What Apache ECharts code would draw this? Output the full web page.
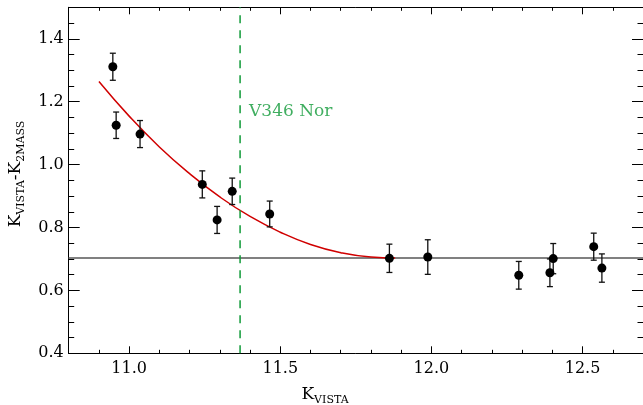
<!DOCTYPE html>
<html><head><meta charset="utf-8">
<script src="https://cdn.jsdelivr.net/npm/echarts@6/dist/echarts.min.js"></script>
<style>html,body{margin:0;padding:0;background:#fff}#c{width:643px;height:405px}</style>
</head><body><div id="c"></div>
<script>
// ---- data ----
const xTicks = [11.0, 11.5, 12.0, 12.5];
const yTicks = [0.4, 0.6, 0.8, 1.0, 1.2, 1.4];
const kVista = [10.946, 10.957, 11.036, 11.242, 11.291, 11.341, 11.465, 11.861, 11.988, 12.289, 12.392, 12.403, 12.537, 12.564];
const dK     = [1.311, 1.125, 1.097, 0.937, 0.824, 0.915, 0.843, 0.702, 0.706, 0.648, 0.656, 0.701, 0.739, 0.671];
const dKerr  = [0.043, 0.042, 0.043, 0.043, 0.043, 0.042, 0.041, 0.045, 0.055, 0.044, 0.044, 0.048, 0.043, 0.045];
const fitX   = [10.90, 11.0, 11.1, 11.2, 11.3, 11.4, 11.5, 11.6, 11.7, 11.8, 11.88];
const fitY   = [1.264, 1.154, 1.056, 0.971, 0.897, 0.835, 0.785, 0.746, 0.720, 0.706, 0.703];
const plateau = 0.703;
const v346X = 11.367;
const v346Label = 'V346 Nor';
const xRange = [10.8, 12.7];
const yRange = [0.4, 1.5];

const FONT = 'DejaVu Serif';
const GREEN = '#109a38';
const chart = echarts.init(document.getElementById('c'), null, {renderer: 'canvas'});

function xAx(pos, major, showLine, showLabel) {
  return {
    type: 'value', position: pos, min: xRange[0], max: xRange[1],
    interval: major ? undefined : 0.1,
    splitLine: {show: false},
    axisLine: {show: showLine, onZero: false, lineStyle: {color: '#000', width: 1}},
    axisTick: major
      ? {show: true, inside: true, length: 7, customValues: xTicks, lineStyle: {color: '#000', width: 1}}
      : {show: true, inside: true, length: 3.5, lineStyle: {color: '#000', width: 1}},
    axisLabel: showLabel
      ? {show: true, customValues: xTicks, formatter: v => Number(v).toFixed(1), margin: 8,
         fontFamily: FONT, fontSize: 16, color: '#000'}
      : {show: false}
  };
}
function yAx(pos, major, showLine, showLabel) {
  return {
    type: 'value', position: pos, min: yRange[0], max: yRange[1],
    interval: major ? undefined : 0.05,
    splitLine: {show: false},
    axisLine: {show: showLine, onZero: false, lineStyle: {color: '#000', width: 1}},
    axisTick: major
      ? {show: true, inside: true, length: 11, customValues: yTicks, lineStyle: {color: '#000', width: 1}}
      : {show: true, inside: true, length: 5.5, lineStyle: {color: '#000', width: 1}},
    axisLabel: showLabel
      ? {show: true, customValues: yTicks, formatter: v => Number(v).toFixed(1), margin: 5,
         fontFamily: FONT, fontSize: 16, color: '#000'}
      : {show: false}
  };
}

const pts = kVista.map((x, i) => [x, dK[i], dKerr[i]]);
const fit = fitX.map((x, i) => [x, fitY[i]]);

const richTitle = {
  k: {fontFamily: FONT, fontSize: 17, color: '#000', lineHeight: 20, verticalAlign: 'top'},
  s: {fontFamily: FONT, fontSize: 11, color: '#000', lineHeight: 11, verticalAlign: 'bottom'}
};

const option = {
  animation: false,
  backgroundColor: '#fff',
  grid: {left: 68.7, top: 7.3, width: 575.9, height: 346, containLabel: false},
  xAxis: [
    xAx('bottom', true, true, true),
    xAx('bottom', false, false, false),
    xAx('top', true, true, false),
    xAx('top', false, false, false)
  ],
  yAxis: [
    yAx('left', true, true, true),
    yAx('left', false, false, false),
    yAx('right', true, true, false),
    yAx('right', false, false, false)
  ],
  graphic: [
    {type: 'text', x: 325, y: 396, z: 100,
     style: {text: '{k|K}{s|VISTA}', align: 'center', verticalAlign: 'middle', rich: richTitle}},
    {type: 'text', x: 17, y: 174, rotation: Math.PI / 2, z: 100,
     style: {text: '{k|K}{s|VISTA}{k|-K}{s|2MASS}', align: 'center', verticalAlign: 'middle', rich: richTitle}}
  ],
  series: [
    {type: 'line', data: [[xRange[0], plateau], [xRange[1], plateau]], symbol: 'none',
     lineStyle: {color: '#808080', width: 2}, z: 1, silent: true},
    {type: 'line', data: fit, smooth: true, symbol: 'none',
     lineStyle: {color: '#d00000', width: 1.5}, z: 2, silent: true},
    {type: 'line', data: [[v346X, yRange[0]], [v346X, yRange[1]]], symbol: 'none',
     lineStyle: {color: GREEN, width: 1.5, type: [8, 7]}, z: 3, silent: true},
    {type: 'custom', data: pts, z: 4, silent: true,
     renderItem: function (params, api) {
       const x = api.value(0), y = api.value(1), e = api.value(2);
       const t = api.coord([x, y + e]), b = api.coord([x, y - e]);
       const st = {stroke: '#111', lineWidth: 1.3};
       return {type: 'group', children: [
         {type: 'line', shape: {x1: t[0], y1: t[1], x2: b[0], y2: b[1]}, style: st},
         {type: 'line', shape: {x1: t[0] - 3, y1: t[1], x2: t[0] + 3, y2: t[1]}, style: st},
         {type: 'line', shape: {x1: b[0] - 3, y1: b[1], x2: b[0] + 3, y2: b[1]}, style: st}
       ]};
     }},
    {type: 'scatter', data: pts.map(p => [p[0], p[1]]), symbol: 'circle', symbolSize: 9,
     itemStyle: {color: '#000', opacity: 1}, z: 5, silent: true},
    {type: 'scatter', data: [[v346X, 1.17]], symbolSize: 0, z: 6, silent: true,
     label: {show: true, formatter: v346Label, position: 'right', distance: 9,
       fontFamily: FONT, fontSize: 17, color: GREEN}}
  ]
};
chart.setOption(option);
</script>
</body></html>
